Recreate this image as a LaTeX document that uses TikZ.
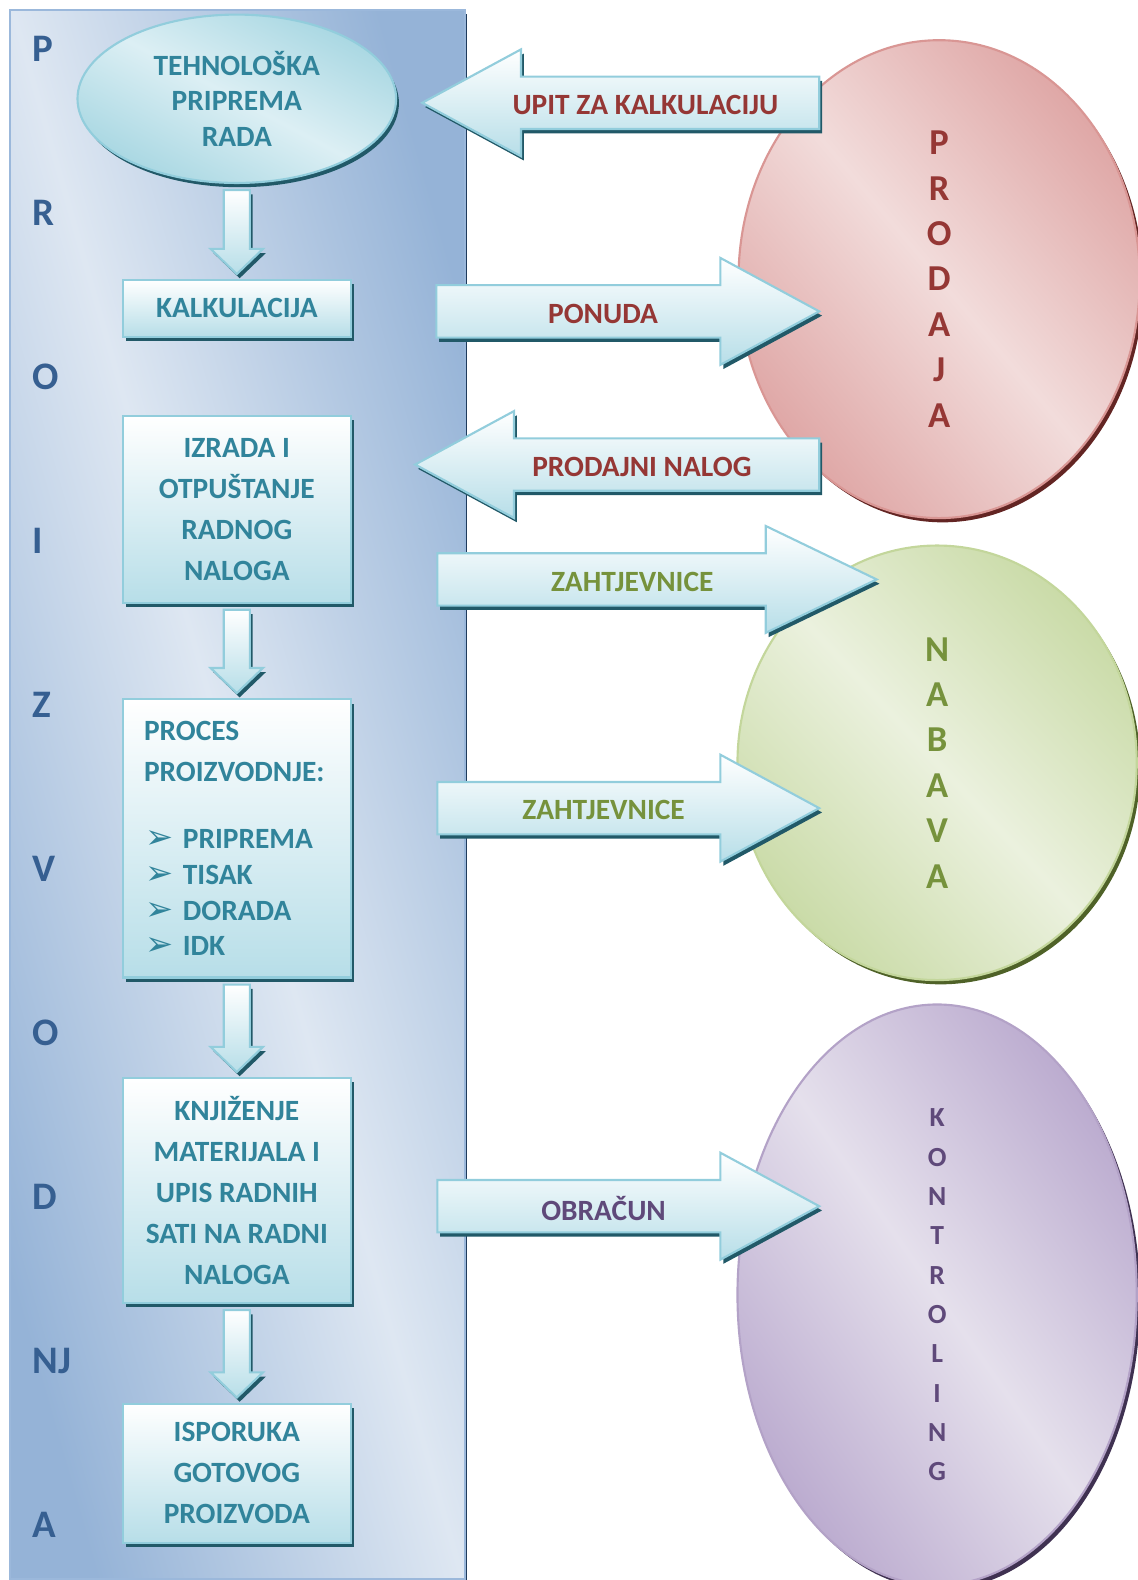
\documentclass[tikz,border=0pt]{standalone}
\usepackage{fontspec}
\setmainfont{Carlito}
\newfontfamily\dejavu{DejaVu Sans}
\usetikzlibrary{shapes.geometric,shadows,calc}

\definecolor{boxbot}{HTML}{B7DEE8}
\definecolor{boxline}{HTML}{92CDDC}
\definecolor{boxdark}{HTML}{215968}
\definecolor{boxtext}{HTML}{31849B}
\definecolor{ovalhi}{HTML}{DCEFF4}
\definecolor{ovallo}{HTML}{A8D7E2}
\definecolor{panelhi}{HTML}{DEE7F2}
\definecolor{panello}{HTML}{95B3D7}
\definecolor{panelline}{HTML}{9BB8DB}
\definecolor{paneldark}{HTML}{1F3B5C}
\definecolor{lettertext}{HTML}{365F91}
\definecolor{pinkhi}{HTML}{F2DCDB}
\definecolor{pinklo}{HTML}{DFA7A6}
\definecolor{pinkline}{HTML}{D99694}
\definecolor{pinkdark}{HTML}{632523}
\definecolor{pinktext}{HTML}{953735}
\definecolor{greenhi}{HTML}{EBF1DE}
\definecolor{greenlo}{HTML}{CADBA8}
\definecolor{greenline}{HTML}{C3D69B}
\definecolor{greendark}{HTML}{4F6228}
\definecolor{greentext}{HTML}{76923C}
\definecolor{violethi}{HTML}{E5E0EC}
\definecolor{violetlo}{HTML}{BBABCF}
\definecolor{violetline}{HTML}{B3A2C7}
\definecolor{violetdark}{HTML}{3F3151}
\definecolor{violettext}{HTML}{5F497A}

% diagonal shadings: dark corners, light diagonal
\pgfdeclarehorizontalshading{panelshade}{100bp}{color(0bp)=(panello); color(25bp)=(panello); color(50bp)=(panelhi); color(75bp)=(panello); color(100bp)=(panello)}
\pgfdeclarehorizontalshading{ovalshade}{100bp}{color(0bp)=(ovallo); color(25bp)=(ovallo); color(50bp)=(ovalhi); color(75bp)=(ovallo); color(100bp)=(ovallo)}
\pgfdeclarehorizontalshading{pinkshade}{100bp}{color(0bp)=(pinklo); color(25bp)=(pinklo); color(50bp)=(pinkhi); color(75bp)=(pinklo); color(100bp)=(pinklo)}
\pgfdeclarehorizontalshading{greenshade}{100bp}{color(0bp)=(greenlo); color(25bp)=(greenlo); color(50bp)=(greenhi); color(75bp)=(greenlo); color(100bp)=(greenlo)}
\pgfdeclarehorizontalshading{violetshade}{100bp}{color(0bp)=(violetlo); color(25bp)=(violetlo); color(50bp)=(violethi); color(75bp)=(violetlo); color(100bp)=(violetlo)}

\newcommand\boxfont{\fontsize{8.3}{11.6}\selectfont\bfseries}
\newcommand\bul{\makebox[0.385cm][l]{\hspace{0.01cm}{\dejavu\fontsize{9.5}{9.5}\selectfont ➢}}}

\tikzset{
	panel/.style={rectangle, draw=panelline, line width=0.6pt, shade, shading=panelshade, shading angle=16,
		minimum width=4.51cm, minimum height=15.57cm, inner sep=0pt,
		general shadow={fill=paneldark, shadow xshift=0.6pt, shadow yshift=-1.1pt}},
	letter/.style={anchor=base west, text=lettertext, font=\fontsize{11}{11}\selectfont\bfseries, inner sep=0pt},
	box/.style={rectangle, draw=boxline, line width=0.6pt, top color=white, bottom color=boxbot,
		text=boxtext, font=\boxfont, align=center, minimum width=2.26cm, inner sep=0pt,
		general shadow={fill=boxdark, shadow xshift=0.8pt, shadow yshift=-1.2pt}},
	oval/.style={ellipse, draw=boxline, line width=0.6pt, shade, shading=ovalshade, shading angle=62,
		text=boxtext, font=\fontsize{8.3}{10.1}\selectfont\bfseries, align=center, inner sep=0pt,
		minimum width=3.16cm, minimum height=1.67cm,
		general shadow={fill=boxdark, shadow xshift=0.8pt, shadow yshift=-1.2pt}},
	side/.style={ellipse, draw=#1line, line width=0.6pt, shade, shading=#1shade,
		text=#1text, align=center, inner sep=0pt,
		general shadow={fill=#1dark, shadow xshift=1pt, shadow yshift=-1.2pt}},
	blockarr/.style={draw=boxline, line width=0.6pt, top color=white, bottom color=boxbot, line join=miter,
		general shadow={fill=boxdark, shadow xshift=0.8pt, shadow yshift=-1.2pt}},
	lbl/.style={font=\boxfont, inner sep=0pt, yshift=-0.6pt},
}

% small block arrow from one box down to the next
\newcommand\vblock[2]{%
	\draw[blockarr] ($(#1.south)+(-13,6)$) -- ($(#2.north)+(-13,-30)$) -- ($(#2.north)+(-26,-30)$)
		-- ($(#2.north)+(0,-5)$) -- ($(#2.north)+(26,-30)$) -- ($(#2.north)+(13,-30)$)
		-- ($(#1.south)+(13,6)$) -- cycle;}

% big block arrow: [head length] tail, tip, label name, label colour, text
\newcommand\hblock[6][0.98cm]{%
	\coordinate (hb) at ($(#3)!#1!(#2)$);
	\coordinate (hm) at ($(#2)!0.5!(#3)$);
	\draw[blockarr] ($(#2)!0.26cm!90:(#3)$) -- ($(hb)!0.26cm!-90:(#2)$) -- ($(hb)!0.53cm!-90:(#2)$)
		-- (#3) -- ($(hb)!0.53cm!90:(#2)$) -- ($(hb)!0.26cm!90:(#2)$) -- ($(#2)!0.26cm!-90:(#3)$) -- cycle;
	\node[lbl, text=#5] (#4) at ($(hm)!0.245cm!(#2)$) {#6};}

\begin{document}
\begin{tikzpicture}[x=0.01cm, y=-0.01cm]
	\useasboundingbox (0,0) rectangle (1129,1568);

	% production column
	\node[panel] (panel) at (235.5,788.5) {};
	\foreach \l [count=\i from 0] in {P,R,O,I,Z,V,O,D,NJ,A}
		\node[letter] (l\i) at (32,61+162.8*\i) {\l};

	\node[oval] (tehn) at (235,98) {TEHNOLOŠKA\\PRIPREMA\\RADA};
	\node[box, minimum height=0.56cm] (kalk) at (235,306) {KALKULACIJA};
	\node[box, minimum height=1.85cm] (izrada) at (235,505.5) {IZRADA I\\OTPUŠTANJE\\RADNOG\\NALOGA};
	\node[box, minimum height=2.76cm, text width=1.84cm, align=left, inner xsep=0.21cm] (proces) at (235,832)
		{PROCES\\PROIZVODNJE:\\[7.4pt]\bul PRIPREMA\\[-1.5pt]\bul TISAK\\[-1.5pt]\bul DORADA\\[-1.5pt]\bul IDK};
	\node[box, minimum height=2.23cm] (knjiz) at (235,1181.5) {KNJIŽENJE\\MATERIJALA I\\UPIS RADNIH\\SATI NA RADNI\\NALOGA};
	\node[box, minimum height=1.38cm] (isporuka) at (235,1462) {ISPORUKA\\GOTOVOG\\PROIZVODA};

	\vblock{tehn}{kalk}
	\vblock{izrada}{proces}
	\vblock{proces}{knjiz}
	\vblock{knjiz}{isporuka}

	% other departments
	\node[side=pink, shading angle=40, minimum width=3.98cm, minimum height=4.74cm, font=\fontsize{10.3}{12.8}\selectfont\bfseries]
		(prodaja) at (932,277) {P\\R\\O\\D\\A\\J\\A};
	\node[side=green, shading angle=43, minimum width=3.96cm, minimum height=4.31cm, font=\fontsize{10.3}{12.8}\selectfont\bfseries]
		(nabava) at (930,757) {N\\A\\B\\A\\V\\A};
	\node[side=violet, shading angle=35, minimum width=3.96cm, minimum height=5.76cm, font=\fontsize{7.8}{11.1}\selectfont\bfseries]
		(kontroling) at (930,1285) {K\\O\\N\\T\\R\\O\\L\\I\\N\\G};

	% documents between departments
	\coordinate (upitS) at (813,102);   \coordinate (upitE) at (419,102);
	\coordinate (ponS) at (433,309);    \coordinate (ponE) at (813,309);
	\coordinate (nalS) at (813,461);    \coordinate (nalE) at (412,461);
	\coordinate (zahS) at (434,575);    \coordinate (zahE) at (870,575);
	\coordinate (zahtS) at (434,802);   \coordinate (zahtE) at (813,802);
	\coordinate (obrS) at (434,1197);   \coordinate (obrE) at (813,1197);

	\hblock{upitS}{upitE}{upit}{pinktext}{UPIT ZA KALKULACIJU}
	\hblock{ponS}{ponE}{ponuda}{pinktext}{PONUDA}
	\hblock{nalS}{nalE}{nalog}{pinktext}{PRODAJNI NALOG}
	\hblock[1.1cm]{zahS}{zahE}{zaht}{greentext}{ZAHTJEVNICE}
	\hblock{zahtS}{zahtE}{zahtb}{greentext}{ZAHTJEVNICE}
	\hblock{obrS}{obrE}{obracun}{violettext}{OBRAČUN}
\end{tikzpicture}
\end{document}
